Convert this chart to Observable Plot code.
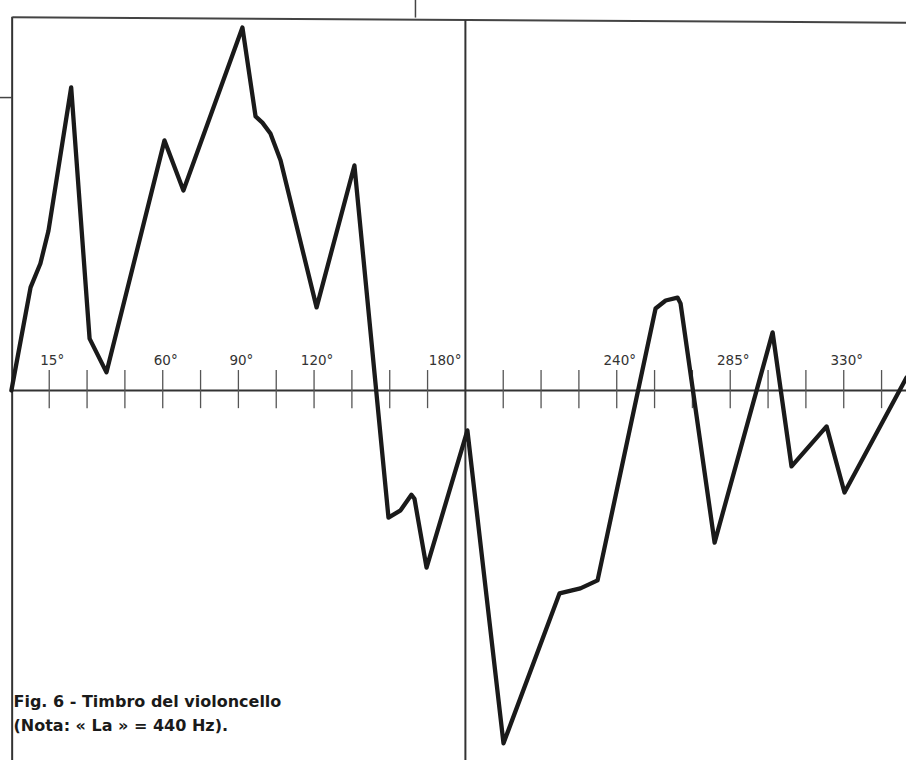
<!DOCTYPE html>
<html><head><meta charset="utf-8">
<script src="https://cdn.jsdelivr.net/npm/d3@7"></script>
<script src="https://cdn.jsdelivr.net/npm/@observablehq/plot@0.6"></script>
<style>body{margin:0;background:#fff;overflow:hidden} svg{display:block}</style>
</head><body><div id="chart"></div>
<script>
// Waveform of the cello timbre: phase (degrees) and relative amplitude (% of max)
const phaseDeg  = [0, 7.6, 11.5, 14.7, 23.7, 31, 37.7, 60.7, 68.2, 91.6, 96.8, 99.5, 102.7, 106.7, 121, 136, 149.5, 154.3, 158.6, 159.8, 164.6, 180.8, 195.1, 217.3, 225.6, 232.4, 255.4, 259.4, 264.1, 265.3, 278.8, 301.8, 309.3, 323.2, 330.3, 354.9];
const amplitude = [0, 28.4, 35, 44, 83.5, 14.3, 5, 68.9, 55.1, 100, 75.5, 73.8, 70.8, 63.4, 22.9, 62, -35, -33, -28.7, -29.8, -48.8, -11, -97.2, -55.9, -54.5, -52.3, 22.6, 24.8, 25.6, 24, -41.9, 16, -20.9, -9.9, -28.1, 3.6];

const tickDeg = [15, 30, 45, 60, 75, 90, 105, 120, 135, 150, 165, 195, 210, 225, 240, 255, 270, 285, 300, 315, 330, 345];
const labelDeg = [15, 60, 90, 120, 180, 240, 285, 330];
const tickLabels = ["15°", "60°", "90°", "120°", "180°", "240°", "285°", "330°"];

const captionLines = ["Fig. 6 - Timbro del violoncello", "(Nota: « La » = 440 Hz)."];

const wave = phaseDeg.map((p, i) => ({phase: p, amp: amplitude[i]}));
const labels = labelDeg.map((d, i) => ({deg: d, text: tickLabels[i]}));
const mainLabels = labels.filter(d => d.deg !== 180);
const endLabels = labels.filter(d => d.deg === 180);

const chart = Plot.plot({
  width: 906,
  height: 760,
  margin: 0,
  x: {domain: [0, 360], range: [10.9, 918.9], axis: null},
  y: {domain: [0, 100], range: [390, 27], axis: null},
  marks: [
    // frame pieces
    Plot.ruleX([0.3], {y1: -102, y2: 102.8, stroke: "#333", strokeWidth: 2}),
    Plot.link([0], {x1: 0.4, y1: 102.8, x2: 360, y2: 101.3, stroke: "#444", strokeWidth: 2}),
    Plot.ruleX([160.2], {y1: 102.6, y2: 108, stroke: "#444", strokeWidth: 1.5}),
    Plot.ruleY([80.7], {x1: -5, x2: 0.4, stroke: "#444", strokeWidth: 1.5}),
    // axes
    Plot.ruleY([0], {x1: 0.4, x2: 360, stroke: "#333", strokeWidth: 2}),
    Plot.ruleX([180], {y1: -102, y2: 101.9, stroke: "#333", strokeWidth: 2}),
    Plot.ruleX(tickDeg, {y1: -5, y2: 5.5, stroke: "#555", strokeWidth: 1.3}),
    // tick labels
    Plot.text(mainLabels, {x: "deg", y: 8.2, text: "text", textAnchor: "middle", dx: 3,
      fontFamily: "DejaVu Sans", fontSize: 13.5, fill: "#333", letterSpacing: 1.2}),
    Plot.text(endLabels, {x: "deg", y: 8.2, text: "text", textAnchor: "end", dx: -4,
      fontFamily: "DejaVu Sans", fontSize: 13.5, fill: "#333", letterSpacing: 1.2}),
    // waveform
    Plot.line(wave, {x: "phase", y: "amp", stroke: "#1a1a1a", strokeWidth: 4.3,
      strokeLinejoin: "round", strokeLinecap: "round"}),
    // caption
    Plot.text([captionLines.join("\n")], {frameAnchor: "bottom-left", dx: 13, dy: -30,
      lineAnchor: "bottom", textAnchor: "start", lineHeight: 1.5,
      fontFamily: "DejaVu Sans", fontWeight: "bold", fontSize: 16, fill: "#1a1a1a", letterSpacing: 0.9})
  ]
});
document.getElementById("chart").append(chart);
</script>
</body></html>
